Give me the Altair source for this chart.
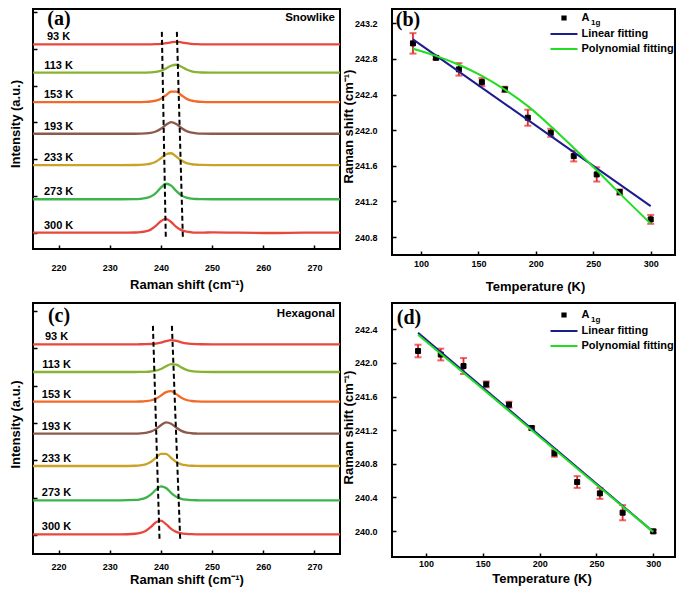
import altair as alt
import pandas as pd

FONT = "Liberation Sans"
SERIF = "Liberation Serif"

# ---------------- spectra (panels a and c) ----------------
shift_grid = [215, 225, 232, 235, 236, 237, 238, 239, 240, 241, 242, 243,
              244, 245, 246, 247, 248, 250, 255, 262, 268, 275]
temp_labels = ["93 K", "113 K", "153 K", "193 K", "233 K", "273 K", "300 K"]
spec_colors = ["#e8473c", "#86b332", "#f26a25", "#8b5a4b", "#c9a227", "#3cb44a", "#e8473c"]

# panel (a) Snowlike: baseline offsets and peak intensities (a.u.)
snow_offsets = [5.12, 4.35, 3.55, 2.69, 1.84, 0.91, 0.0]
snow_93 = [0, 0, 0, 0, 0, 0.001, 0.002, 0.006, 0.014, 0.032, 0.056, 0.07, 0.056, 0.032, 0.014, 0.006, 0.002, 0, 0, 0, 0, 0]
snow_113 = [0, 0, 0, 0, 0, 0.003, 0.009, 0.022, 0.054, 0.115, 0.189, 0.216, 0.161, 0.087, 0.038, 0.015, 0.006, 0.003, 0, 0, 0, 0]
snow_153 = [0, 0, 0, 0, 0.002, 0.006, 0.017, 0.039, 0.093, 0.189, 0.285, 0.285, 0.189, 0.093, 0.039, 0.017, 0.006, 0, 0, 0, 0, 0]
snow_193 = [0, 0, 0, 0, 0.003, 0.009, 0.024, 0.06, 0.135, 0.245, 0.317, 0.266, 0.156, 0.071, 0.029, 0.011, 0.004, 0, 0, 0, 0, 0]
snow_233 = [0, 0, 0, 0.001, 0.005, 0.015, 0.036, 0.088, 0.184, 0.294, 0.32, 0.23, 0.121, 0.052, 0.021, 0.008, 0.002, 0, 0, 0, 0, 0]
snow_273 = [0, 0, 0, 0.003, 0.011, 0.03, 0.074, 0.169, 0.315, 0.421, 0.37, 0.224, 0.105, 0.043, 0.017, 0.006, 0.001, 0, 0, 0, 0, 0]
snow_300 = [0, 0, 0, 0.005, 0.013, 0.034, 0.084, 0.185, 0.315, 0.376, 0.291, 0.16, 0.071, 0.029, 0.011, 0.003, 0, 0.01, 0, -0.008, 0, 0]
snow_curves = [snow_93, snow_113, snow_153, snow_193, snow_233, snow_273, snow_300]

# panel (c) Hexagonal
hex_offsets = [5.107, 4.366, 3.572, 2.717, 1.853, 0.936, 0.027]
hex_93 = [0, 0, 0, 0, 0.001, 0.003, 0.008, 0.02, 0.046, 0.084, 0.109, 0.091, 0.053, 0.024, 0.01, 0.004, 0.001, 0, 0, 0, 0, 0]
hex_113 = [0, 0, 0, 0, 0.002, 0.005, 0.014, 0.035, 0.081, 0.154, 0.213, 0.196, 0.123, 0.059, 0.024, 0.01, 0.004, 0, 0, 0, 0, 0]
hex_153 = [0, 0, 0, 0.001, 0.005, 0.013, 0.032, 0.077, 0.162, 0.258, 0.281, 0.202, 0.106, 0.046, 0.019, 0.007, 0.002, 0, 0, 0, 0, 0]
hex_193 = [0, 0, 0, 0.002, 0.008, 0.022, 0.053, 0.122, 0.227, 0.304, 0.267, 0.162, 0.076, 0.031, 0.012, 0.004, 0.001, 0, 0, 0, 0, 0]
hex_233 = [0, 0, 0, 0.007, 0.019, 0.044, 0.105, 0.214, 0.323, 0.323, 0.214, 0.105, 0.044, 0.019, 0.007, 0.002, 0, 0, 0, 0, 0, 0]
hex_273 = [0, 0, 0, 0.01, 0.027, 0.065, 0.15, 0.278, 0.372, 0.327, 0.198, 0.093, 0.038, 0.015, 0.005, 0.001, 0, 0, 0, 0, 0, 0]
hex_300 = [0, 0, 0, 0.015, 0.037, 0.09, 0.193, 0.318, 0.363, 0.271, 0.146, 0.064, 0.026, 0.01, 0.003, 0, 0, 0, 0, 0, 0, 0]
hex_curves = [hex_93, hex_113, hex_153, hex_193, hex_233, hex_273, hex_300]

# dashed guide lines (start shift, end shift, top, bottom)
snow_guide_x = [240.18, 243.12]
snow_guide_x2 = [240.96, 244.3]
snow_guide_y = [5.46, -0.18]
hex_guide_x = [238.44, 242.15]
hex_guide_x2 = [239.73, 243.77]
hex_guide_y = [5.6, -0.11]

# ---------------- peak position vs temperature (panels b and d) ----------------
temperature = [93, 113, 133, 153, 173, 193, 213, 233, 253, 273, 300]
snow_shift = [242.975, 242.813, 242.683, 242.54, 242.458, 242.14, 241.971, 241.709, 241.503, 241.305, 240.998]
snow_err = [0.115, 0.02, 0.07, 0.045, 0.03, 0.09, 0.045, 0.06, 0.08, 0.03, 0.05]
snow_lin_T = [93, 300]
snow_lin = [243.02, 241.147]
snow_poly_T = [93, 113, 133, 153, 173, 193, 213, 233, 253, 273, 300]
snow_poly = [242.915, 242.835, 242.735, 242.61, 242.455, 242.27, 242.045, 241.80, 241.55, 241.29, 240.95]

hex_shift = [242.142, 242.10, 241.963, 241.745, 241.503, 241.225, 240.924, 240.583, 240.448, 240.218, 239.996]
hex_err = [0.075, 0.07, 0.095, 0.035, 0.035, 0.02, 0.04, 0.07, 0.065, 0.09, 0.02]
hex_lin_T = [93, 300]
hex_lin = [242.36, 239.99]
hex_poly_T = [93, 150, 200, 250, 300]
hex_poly = [242.335, 241.69, 241.12, 240.55, 239.99]

series_domain = ["A1g", "Linear fitting", "Polynomial fitting"]
series_colors = ["black", "#1c1c8c", "#22dd22"]
SQUARE = "M-0.24,-0.24H0.24V0.24H-0.24Z"
LONG_STROKE = "M-2,0H2"


def spectra_panel(curves, offsets, gx, gx2, gy, y_domain, label_x, tag, name,
                  height, xlab_pad, xtitle_y, ytitle_y, tag_y, name_y):
    W = 307
    rows = []
    for lab, off, vals in zip(temp_labels, offsets, curves):
        for s, v in zip(shift_grid, vals):
            rows.append({"T": lab, "shift": s, "I": off + v})
    spec = pd.DataFrame(rows)
    xax = alt.Axis(values=[220, 230, 240, 250, 260, 270], offset=-4, tickSize=4,
                   labelPadding=xlab_pad, title="Raman shift (cm⁻¹)",
                   titleX=W / 2, titleY=xtitle_y, titleBaseline="middle", titleAlign="center")
    yax = alt.Axis(values=[0, 1, 2, 3, 4, 5, 6], labels=False, offset=-4, tickSize=4,
                   title="Intensity (a.u.)", titleX=-22, titleY=ytitle_y, titleAngle=270,
                   titleBaseline="middle", titleAlign="center")
    xs = alt.Scale(domain=[215, 275], nice=False, zero=False)
    ys = alt.Scale(domain=y_domain, nice=False, zero=False)

    lines = alt.Chart(spec).mark_line(interpolate="monotone", strokeWidth=2.3).encode(
        x=alt.X("shift:Q", scale=xs, axis=xax),
        y=alt.Y("I:Q", scale=ys, axis=yax),
        color=alt.Color("T:N", scale=alt.Scale(domain=temp_labels, range=spec_colors), legend=None),
    )
    gdf = pd.DataFrame({"shift": gx, "shift2": gx2, "I": [gy[0]] * 2, "I2": [gy[1]] * 2})
    guides = alt.Chart(gdf).mark_rule(strokeDash=[5, 3], strokeWidth=2, color="black").encode(
        x=alt.X("shift:Q", scale=xs, axis=xax), x2="shift2:Q",
        y=alt.Y("I:Q", scale=ys, axis=yax), y2="I2:Q")
    ldf = pd.DataFrame({"T": temp_labels, "shift": [label_x] * 7, "I": offsets})
    labels = alt.Chart(ldf).mark_text(dy=-7, font=FONT, fontSize=11, fontWeight="bold",
                                      color="black", align="center", baseline="middle").encode(
        x=alt.X("shift:Q", scale=xs, axis=xax), y=alt.Y("I:Q", scale=ys, axis=yax), text="T:N")
    tagc = alt.Chart(pd.DataFrame({"t": [tag]})).mark_text(
        font=SERIF, fontSize=20, fontWeight="bold", color="black", baseline="middle").encode(
        x=alt.value(26), y=alt.value(tag_y), text="t:N")
    namec = alt.Chart(pd.DataFrame({"t": [name]})).mark_text(
        font=FONT, fontSize=11.5, fontWeight="bold", color="black", align="right",
        baseline="middle").encode(x=alt.value(302), y=alt.value(name_y), text="t:N")
    return alt.layer(lines, guides, labels, tagc, namec).properties(width=W, height=height)


def shift_panel(vals, errs, lin_T, lin_v, poly_T, poly_v, x_domain, y_domain, y_ticks,
                height, xlab_pad, xtitle_x, xtitle_y, ytitle_x, ytitle_y, tag, tag_x, tag_y,
                legend_x, legend_y, sub_x, sub_y):
    W = 283
    pts = pd.DataFrame({"T": temperature, "v": vals, "series": ["A1g"] * len(vals)})
    bars = pd.DataFrame({"T": temperature, "v": [v - e for v, e in zip(vals, errs)],
                         "v2": [v + e for v, e in zip(vals, errs)]})
    caps = pd.DataFrame({"T": temperature + temperature,
                         "v": list(bars["v"]) + list(bars["v2"])})
    fits = pd.DataFrame({"T": lin_T + poly_T, "v": lin_v + poly_v,
                         "series": ["Linear fitting"] * len(lin_T) + ["Polynomial fitting"] * len(poly_T)})
    xax = alt.Axis(values=[100, 150, 200, 250, 300], offset=-4, tickSize=4,
                   labelPadding=xlab_pad, title="Temperature (K)", titleX=xtitle_x,
                   titleY=xtitle_y, titleBaseline="middle", titleAlign="center")
    yax = alt.Axis(values=y_ticks, format=".1f", offset=-4, tickSize=4, labelPadding=15,
                   title="Raman shift (cm⁻¹)", titleX=ytitle_x, titleY=ytitle_y,
                   titleAngle=270, titleBaseline="middle", titleAlign="center")
    xs = alt.Scale(domain=x_domain, nice=False, zero=False)
    ys = alt.Scale(domain=y_domain, nice=False, zero=False)
    X = alt.X("T:Q", scale=xs, axis=xax)
    Y = alt.Y("v:Q", scale=ys, axis=yax)
    legend = alt.Legend(title=None, orient="none", legendX=legend_x, legendY=legend_y,
                        direction="vertical", padding=0, rowPadding=2, labelFont=FONT,
                        labelFontSize=11, labelFontWeight="bold", labelColor="black",
                        labelOffset=9.5, symbolSize=182, symbolStrokeWidth=2, labelLimit=300,
                        labelExpr="datum.label == 'A1g' ? 'A' : datum.label")
    col_scale = alt.Scale(domain=series_domain, range=series_colors)
    shape_scale = alt.Scale(domain=series_domain, range=[SQUARE, LONG_STROKE, LONG_STROKE])

    bar_l = alt.Chart(bars).mark_rule(color="#e8262a", strokeWidth=1.8).encode(x=X, y=Y, y2="v2:Q")
    cap_l = alt.Chart(caps).mark_tick(color="#e8262a", orient="horizontal", size=7,
                                      thickness=2).encode(x=X, y=Y)
    pt_l = alt.Chart(pts).mark_point(filled=True, size=434, strokeWidth=1, opacity=1).encode(
        x=X, y=Y,
        fill=alt.Fill("series:N", scale=col_scale, legend=legend),
        stroke=alt.Stroke("series:N", scale=col_scale, legend=legend),
        shape=alt.Shape("series:N", scale=shape_scale, legend=legend))
    fit_l = alt.Chart(fits).mark_line(strokeWidth=2, interpolate="monotone").encode(
        x=X, y=Y, stroke=alt.Stroke("series:N", scale=col_scale, legend=legend))
    tagc = alt.Chart(pd.DataFrame({"t": [tag]})).mark_text(
        font=SERIF, fontSize=20, fontWeight="bold", color="black", baseline="middle").encode(
        x=alt.value(tag_x), y=alt.value(tag_y), text="t:N")
    subc = alt.Chart(pd.DataFrame({"t": ["1g"]})).mark_text(
        font=FONT, fontSize=8, fontWeight="bold", color="black", align="left",
        baseline="middle").encode(x=alt.value(sub_x), y=alt.value(sub_y), text="t:N")
    return alt.layer(bar_l, cap_l, pt_l, fit_l, tagc, subc).properties(width=W, height=height)


panel_a = spectra_panel(snow_curves, snow_offsets, snow_guide_x, snow_guide_x2, snow_guide_y,
                        [-0.443, 6.082], 220.0, "(a)", "Snowlike", 240,
                        14, 39.5, 114.5, 10, 9)
panel_c = spectra_panel(hex_curves, hex_offsets, hex_guide_x, hex_guide_x2, hex_guide_y,
                        [-0.5, 6.211], 219.6, "(c)", "Hexagonal", 251,
                        8.5, 29, 121, 13, 11)
panel_b = shift_panel(snow_shift, snow_err, snow_lin_T, snow_lin, snow_poly_T, snow_poly,
                      [74.75, 321.16], [240.598, 243.361],
                      [240.8, 241.2, 241.6, 242.0, 242.4, 242.8, 243.2],
                      246, 4, 143, 35, -48, 117, "(b)", 16, 11, 164, 1, 199, 14)
panel_d = shift_panel(hex_shift, hex_err, hex_lin_T, hex_lin, hex_poly_T, hex_poly,
                      [70.08, 319.09], [239.691, 242.713],
                      [240.0, 240.4, 240.8, 241.2, 241.6, 242.0, 242.4],
                      254, 2, 149.5, 25, -48, 124, "(d)", 17, 15, 164, 4, 199, 17)

chart = alt.concat(
    panel_a, panel_b, panel_c, panel_d,
    columns=2, spacing={"row": 48, "column": 52}, bounds="flush", align="each",
    padding=0,
).resolve_scale(
    color="independent", fill="independent", stroke="independent", shape="independent"
).resolve_legend(
    fill="independent", stroke="independent", shape="independent"
).configure(
    font=FONT, background="white"
).configure_view(
    stroke="black", strokeWidth=2
).configure_axis(
    domain=False, grid=False, tickColor="black", tickWidth=1.5,
    labelFont=FONT, labelFontSize=9, labelFontWeight="bold", labelColor="black",
    titleFont=FONT, titleFontSize=13, titleFontWeight="bold", titleColor="black",
)

chart.save("out.html", embed_options={"renderer": "svg", "actions": False})
